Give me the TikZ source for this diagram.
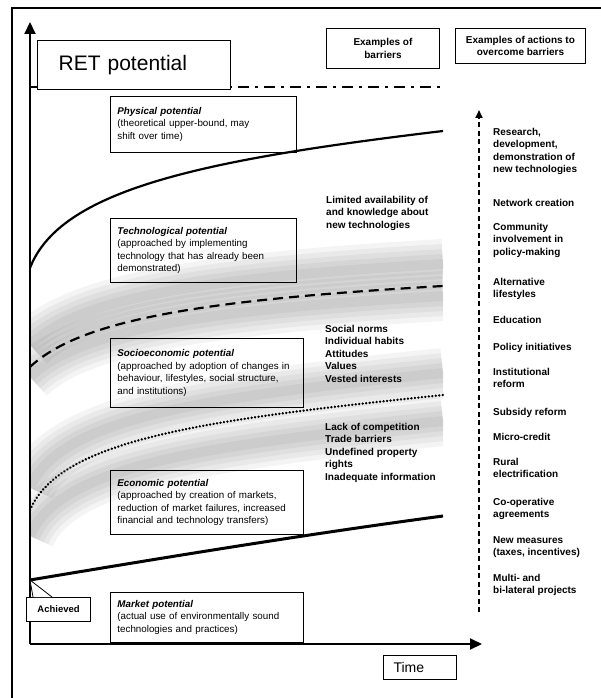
\documentclass[tikz,border=0pt]{standalone}
\usepackage{fontspec}
\setmainfont{Liberation Sans}
\usetikzlibrary{arrows.meta}

\newcommand{\techline}{(30,268) .. controls (60,190) and (200,160) .. (443,131)}
\newcommand{\socioline}{(30,367) .. controls (80,320) and (200,300) .. (443,286)}
\newcommand{\econline}{(30,510) .. controls (60,440) and (200,420) .. (443,395)}
\newcommand{\marketline}{(30,580) .. controls (150,560) and (300,535) .. (443,516)}

\tikzstyle{potbox} = [rectangle, draw=black, line width=0.9bp, anchor=north west, inner xsep=7bp, text width=172bp, align=left, font=\fontsize{9.8bp}{12.5bp}\selectfont]
\tikzstyle{widebox} = [potbox, text width=179bp]
\tikzstyle{headbox} = [rectangle, draw=black, line width=0.9bp, anchor=north west, align=center, font=\bfseries\fontsize{10bp}{12.5bp}\selectfont]
\tikzstyle{barrier} = [anchor=north west, inner sep=0pt, align=left, font=\bfseries\fontsize{10bp}{12.4bp}\selectfont]
\tikzstyle{axis} = [line width=2bp, -{Triangle[length=12bp,width=11bp]}]
\tikzstyle{curve} = [line width=2.2bp]
\tikzstyle{haze} = [draw=black, draw opacity=0.042]

% soft grey band along a curve
\newcommand{\hazeband}[2]{%
  \draw [haze, line width=50bp, yshift=#1] #2;
  \draw [haze, line width=40bp, yshift=#1] #2;
  \draw [haze, line width=30bp, yshift=#1] #2;
  \draw [haze, line width=20bp, yshift=#1] #2;
  \draw [haze, line width=10bp, yshift=#1] #2;}

\begin{document}
\begin{tikzpicture}[x=1bp, y=-1bp]
\useasboundingbox (0,0) rectangle (601,698);

% frame
\draw [line width=1.5bp] (12,698) -- (12,8) -- (601,8);

% grey bands
\begin{scope}
\clip (30,0) rectangle (443,698);
\hazeband{22bp}{\socioline}
\hazeband{-10bp}{\socioline}
\hazeband{22bp}{\econline}
\hazeband{-26bp}{\econline}
\end{scope}

% axes
\coordinate (origin) at (30,644);
\coordinate (ytop) at (30,22);
\coordinate (xend) at (482,644);
\draw [axis] (origin) -- (ytop);
\draw [axis] (origin) -- (xend);

% potential curves
\coordinate (physstart) at (30,87);
\coordinate (physend) at (443,87);
\draw [line width=2.5bp, dash pattern=on 11bp off 6bp on 3bp off 6bp] (physstart) -- (physend);
\draw [curve] \techline;
\draw [curve, dash pattern=on 10bp off 6bp] \socioline;
\draw [line width=2.6bp, line cap=round, dash pattern=on 0.1bp off 3.4bp] \econline;
\draw [line width=3bp] \marketline;

\node (ret) [rectangle, draw=black, line width=1.3bp, fill=white, anchor=north west, text width=151bp, inner xsep=21bp, minimum height=49bp, align=left, font=\fontsize{21bp}{24bp}\selectfont] at (37,40) {RET potential};

\node (physical) [potbox, minimum height=56bp] at (110,96) {\textbf{\textit{Physical potential}}\\(theoretical upper-bound, may\\shift over time)};
\node (technological) [potbox, minimum height=64bp] at (110,218) {\textbf{\textit{Technological potential}}\\(approached by implementing\\technology that has already been\\demonstrated)};
\node (socioeconomic) [widebox, minimum height=69bp] at (110,338) {\textbf{\textit{Socioeconomic potential}}\\(approached by adoption of changes in\\behaviour, lifestyles, social structure,\\and institutions)};
\node (economic) [widebox, minimum height=64bp] at (110,470) {\textbf{\textit{Economic potential}}\\(approached by creation of markets,\\reduction of market failures, increased\\financial and technology transfers)};
\node (market) [widebox, minimum height=50bp] at (110,592) {\textbf{\textit{Market potential}}\\(actual use of environmentally sound\\technologies and practices)};

% achieved callout
\coordinate (achievedpt) at (30,580);
\node (achieved) [rectangle, draw=black, line width=1.1bp, fill=white, anchor=north west, minimum width=64bp, minimum height=24bp, font=\bfseries\fontsize{9.5bp}{11bp}\selectfont] at (26,597) {Achieved};
\fill [white] ([xshift=7bp]achieved.north west) -- (achievedpt) -- ([xshift=26bp]achieved.north west) -- cycle;
\draw [line width=0.8bp] ([xshift=7bp]achieved.north west) -- (achievedpt) -- ([xshift=26bp]achieved.north west);

\node (time) [rectangle, draw=black, line width=1.1bp, anchor=north west, text width=53bp, inner xsep=10bp, minimum height=24bp, align=left, font=\fontsize{14bp}{16bp}\selectfont] at (383,655) {Time};

% column heads
\node (barriers) [headbox, minimum width=113bp, minimum height=40bp] at (326,28) {Examples of\\barriers};
\node (actions) [headbox, minimum width=130bp, minimum height=35bp] at (455,28) {Examples of actions to\\overcome barriers};

% barriers
\node (techbarrier) [barrier] at (326,196) {Limited availability of\\and knowledge about\\new technologies};
\node (socialbarrier) [barrier] at (325,325) {Social norms\\Individual habits\\Attitudes\\Values\\Vested interests};
\node (econbarrier) [barrier] at (325,423) {Lack of competition\\Trade barriers\\Undefined property\\rights\\Inadequate information};

% actions
\coordinate (actbottom) at (479,612);
\coordinate (acttop) at (479,110);
\draw [line width=1.8bp, dash pattern=on 5bp off 3.5bp, -{Triangle[length=8bp,width=7bp]}] (actbottom) -- (acttop);

\node (research) [barrier] at (493,128) {Research,\\development,\\demonstration of\\new technologies};
\node (network) [barrier] at (493,199) {Network creation};
\node (community) [barrier] at (493,223) {Community\\involvement in\\policy-making};
\node (lifestyles) [barrier] at (493,278) {Alternative\\lifestyles};
\node (education) [barrier] at (493,316) {Education};
\node (policy) [barrier] at (493,343) {Policy initiatives};
\node (institutional) [barrier] at (493,368) {Institutional\\reform};
\node (subsidy) [barrier] at (493,408) {Subsidy reform};
\node (microcredit) [barrier] at (493,433) {Micro-credit};
\node (rural) [barrier] at (493,458) {Rural\\electrification};
\node (cooperative) [barrier] at (493,498) {Co-operative\\agreements};
\node (measures) [barrier] at (493,536) {New measures\\(taxes, incentives)};
\node (lateral) [barrier] at (493,574) {Multi- and\\bi-lateral projects};
\end{tikzpicture}
\end{document}
